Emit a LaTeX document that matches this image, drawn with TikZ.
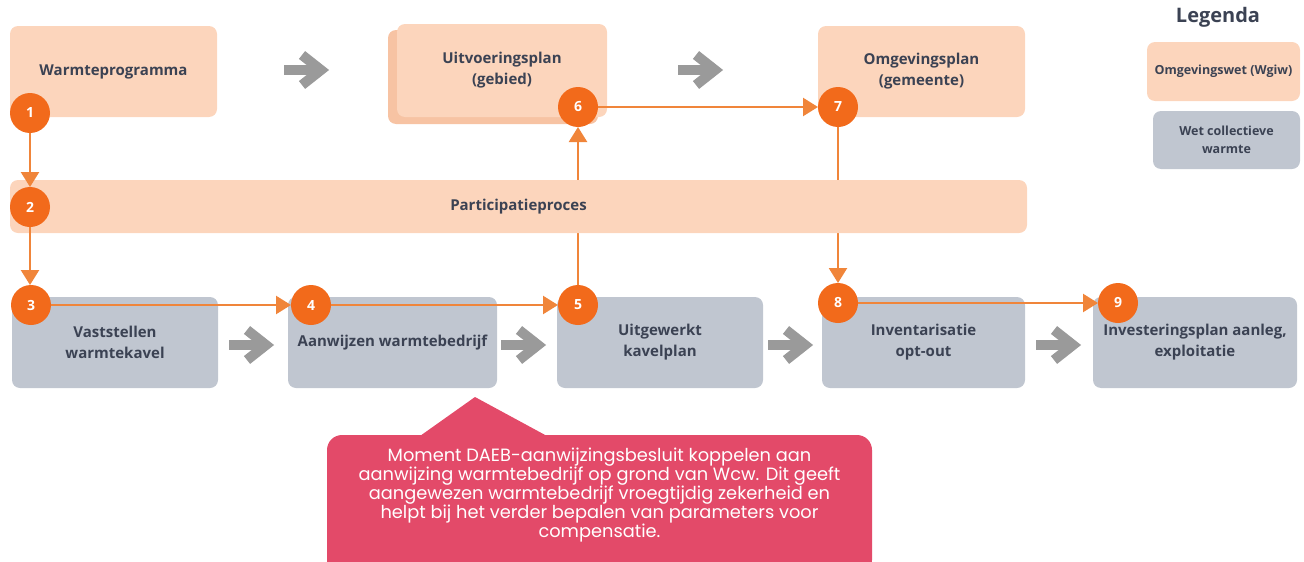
\documentclass[tikz,border=0pt]{standalone}
\usepackage{fontspec}
\setmainfont{Open Sans}
\newfontfamily\calloutfont{Poppins}
\usetikzlibrary{arrows.meta}

\definecolor{peachfill}{HTML}{FCD5BC}
\definecolor{peachback}{HTML}{F7C3A3}
\definecolor{wcwfill}{HTML}{C0C6D0}
\definecolor{labeltext}{HTML}{3B4253}
\definecolor{stepfill}{HTML}{F26A1B}
\definecolor{flowline}{HTML}{F0853A}
\definecolor{chevron}{HTML}{9A9A9A}
\definecolor{calloutfill}{HTML}{E34A69}

\tikzset{
  blockbase/.style={rounded corners=8pt, inner sep=0pt, align=center,
    text=labeltext, font=\fontsize{15}{21}\selectfont\bfseries},
  wgiwbox/.style={blockbase, fill=peachfill},
  wcwbox/.style={blockbase, fill=wcwfill},
  legendtext/.style={font=\fontsize{12.5}{18}\selectfont\bfseries},
  stepdot/.style={circle, fill=stepfill, minimum size=40pt, inner sep=0pt,
    text=white, font=\fontsize{14}{14}\selectfont\bfseries},
  flow/.style={draw=flowline, line width=2.4pt,
    -{Triangle[length=15pt,width=18pt]}},
  pics/grayarrow/.style={code={
    \draw[chevron, line width=10pt] (-24,0) -- (10,0);
    \draw[chevron, line width=10pt, line join=miter] (-6,-15) -- (13,0) -- (-6,15);
  }}
}

\begin{document}
\begin{tikzpicture}[x=1pt, y=-1pt]
  \useasboundingbox (0,0) rectangle (1304,562);

  % top row: Omgevingswet instruments
  \node[wgiwbox, minimum width=207pt, minimum height=91pt] (wp) at (113.5,71.5) {Warmteprogramma};
  \fill[peachback, rounded corners=8pt] (388,30) rectangle (598,124);
  \node[wgiwbox, minimum width=210pt, minimum height=93pt] (up) at (502,70.5) {Uitvoeringsplan\\(gebied)};
  \node[wgiwbox, minimum width=207pt, minimum height=91pt] (op) at (921.5,71.5) {Omgevingsplan\\(gemeente)};
  \pic at (308,70) {grayarrow};
  \pic at (702,70) {grayarrow};

  % legend
  \node[text=labeltext, font=\fontsize{20}{20}\selectfont\bfseries] (legtitle) at (1218,17) {Legenda};
  \node[wgiwbox, legendtext, minimum width=153pt, minimum height=59pt] (leg1) at (1223.5,71.5) {Omgevingswet (Wgiw)};
  \node[wcwbox, legendtext, minimum width=147pt, minimum height=58pt] (leg2) at (1226.5,140) {Wet collectieve\\warmte};

  % bottom row: Wet collectieve warmte steps
  \node[wcwbox, minimum width=206pt, minimum height=91pt] (vk) at (115,342.5) {Vaststellen\\warmtekavel};
  \node[wcwbox, minimum width=209pt, minimum height=91pt] (aw) at (392.5,342.5) {Aanwijzen warmtebedrijf};
  \node[wcwbox, minimum width=206pt, minimum height=91pt] (uk) at (660,342.5) {Uitgewerkt\\kavelplan};
  \node[wcwbox, minimum width=203pt, minimum height=91pt] (io) at (923.5,342.5) {Inventarisatie\\opt-out};
  \node[wcwbox, minimum width=204pt, minimum height=91pt] (ip) at (1195,342.5) {Investeringsplan aanleg,\\exploitatie};
  \pic at (253,345) {grayarrow};
  \pic at (525,345) {grayarrow};
  \pic at (792,345) {grayarrow};
  \pic at (1060,345) {grayarrow};

  % step marker positions
  \coordinate (p1) at (30,113);
  \coordinate (p2) at (30,207);
  \coordinate (p3) at (31,305);
  \coordinate (p4) at (311,305);
  \coordinate (p5) at (578,305);
  \coordinate (p6) at (578,107);
  \coordinate (p7) at (838,107);
  \coordinate (p8) at (838,303);
  \coordinate (p9) at (1118,303);

  % vertical links that run behind the participation bar
  \draw[flow] (p5) -- ([yshift=-20pt]p6);
  \draw[flow] (p7) -- ([yshift=20pt]p8);

  % participation bar
  \node[wgiwbox, minimum width=1017pt, minimum height=53pt] (pp) at (518.5,206.5) {Participatieproces};

  % remaining links
  \draw[flow] (p1) -- ([yshift=20pt]p2);
  \draw[flow] (p2) -- ([yshift=20pt]p2 |- p3);
  \draw[flow] (p3) -- ([xshift=-20pt]p4);
  \draw[flow] (p4) -- ([xshift=-20pt]p5);
  \draw[flow] (p6) -- ([xshift=-20pt]p7);
  \draw[flow] (p8) -- ([xshift=-20pt]p9);

  \foreach \i in {1,...,9} {
    \node[stepdot] (s\i) at (p\i) {\i};
  }

  % callout
  \fill[calloutfill, rounded corners=15pt] (327,435) rectangle (872,575);
  \fill[calloutfill] (420,436) -- (475,397) -- (547,436) -- cycle;
  \node[text=white, align=center, font=\calloutfont\fontsize{17.8}{18.8}\selectfont] (note) at (599.5,495)
    {Moment DAEB-aanwijzingsbesluit koppelen aan\\
     aanwijzing warmtebedrijf op grond van Wcw. Dit geeft\\
     aangewezen warmtebedrijf vroegtijdig zekerheid en\\
     helpt bij het verder bepalen van parameters voor\\
     compensatie.};
\end{tikzpicture}
\end{document}
